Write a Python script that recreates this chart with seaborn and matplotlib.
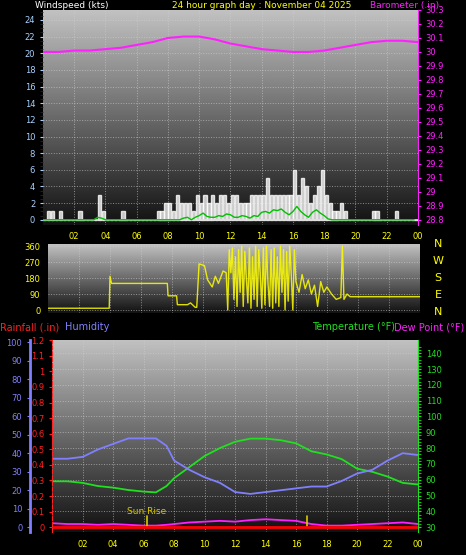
import numpy as np
import pandas as pd
import seaborn as sns
import matplotlib.pyplot as plt

# ---- data (hours 0..24) ----
baro_hours = [0, 1, 2, 3, 4, 5, 6, 7, 8, 9, 10, 11, 12, 13, 14, 15, 16, 17, 18, 19, 20, 21, 22, 23, 24]
baro_vals = [30.00, 30.00, 30.01, 30.01, 30.02, 30.03, 30.05, 30.07, 30.10, 30.11, 30.11, 30.09, 30.06,
             30.04, 30.02, 30.01, 30.00, 30.00, 30.01, 30.03, 30.05, 30.07, 30.08, 30.08, 30.07]

gust = [0, 1, 1, 0, 1, 0, 0, 0, 0, 1, 0, 0, 0, 0, 3, 1, 0, 0, 0, 0, 1, 0, 0, 0,
        0, 0, 0, 0, 0, 1, 1, 2, 2, 1, 3, 2, 2, 2, 1, 3, 2, 3, 2, 3, 2, 3, 3, 2,
        3, 3, 2, 2, 2, 3, 3, 3, 3, 5, 3, 3, 3, 3, 3, 3, 6, 3, 5, 4, 2, 3, 4, 6,
        3, 2, 1, 1, 2, 1, 0, 0, 0, 0, 0, 0, 1, 1, 0, 0, 0, 0, 1, 0, 0, 0, 0, 0]
avg_wind = [0] * 14 + [0.3, 0.2] + [0] * 20 + [0.2, 0.3, 0, 0.3, 0.5, 0.8, 0.4, 0.3, 0.3, 0.5, 0.4, 0.7,
            0.6, 0.3, 0.3, 0.5, 0.4, 0.2, 0.5, 0.4, 0.9, 1.0, 0.8, 1.2, 1.1, 1.3, 0.9, 0.6,
            1.0, 1.6, 1.0, 0.6, 0.3, 0.9, 1.2, 0.8, 0.5, 0.1] + [0] * 22

dir_hours = [0, 3.95, 4.0, 4.1, 7.7, 7.75, 8.3, 8.35, 9.0, 9.2, 9.5, 9.6, 9.75, 10.1, 10.3, 10.6,
             10.8, 11.0, 11.3, 11.5, 11.6, 11.7, 11.8, 11.9, 12.0, 12.1, 12.2, 12.3, 12.4, 12.5,
             12.6, 12.7, 12.8, 12.9, 13.0, 13.1, 13.2, 13.3, 13.4, 13.5, 13.6, 13.7, 13.8, 13.9,
             14.0, 14.1, 14.2, 14.3, 14.4, 14.5, 14.6, 14.7, 14.8, 14.9, 15.0, 15.1, 15.2, 15.3,
             15.4, 15.5, 15.6, 15.7, 15.8, 15.9, 16.0, 16.2, 16.4, 16.6, 16.8, 17.0, 17.2, 17.4,
             17.6, 17.8, 18.0, 18.3, 18.6, 18.9, 19.0, 19.1, 19.3, 19.5, 24]
dir_vals = [10, 10, 190, 150, 150, 80, 80, 30, 30, 40, 15, 15, 260, 250, 170, 130, 190, 150, 220, 210,
            0, 340, 210, 350, 60, 300, 20, 340, 100, 360, 20, 330, 180, 40, 350, 10, 300, 60, 360,
            20, 340, 200, 10, 350, 30, 360, 150, 20, 340, 10, 350, 40, 300, 20, 360, 100, 340, 0,
            330, 50, 360, 200, 0, 340, 160, 100, 200, 120, 170, 90, 140, 20, 160, 100, 130, 90, 60,
            70, 360, 60, 90, 75, 75]

temp_hours = [0, 1, 2, 3, 4, 5, 6, 6.8, 7.5, 8, 9, 10, 11, 12, 13, 14, 15, 16, 17, 18, 19, 20, 21, 22, 23, 24]
temp_vals = [59, 59, 58, 56, 55, 53.5, 52.5, 52, 56, 61, 68, 75, 80, 84, 86, 86, 85, 83, 78, 76, 73, 67, 65, 62, 58, 57]
hum_vals = [37, 37, 38, 42, 45, 48, 48, 48, 44, 36, 31, 27, 24, 19, 18, 19, 20, 21, 22, 22, 25, 29, 31, 36, 40, 39]
dew_vals = [32.5, 32, 32, 31.5, 32, 31.5, 31, 31, 31.5, 32, 33, 33.5, 34, 33.5, 34.5, 35, 34.5, 34, 32, 31, 31, 31.5, 32, 32.5, 33, 32]
rain_vals = [0] * len(temp_hours)

hour_ticks = list(range(2, 25, 2))
hour_labels = [f"{h % 24:02d}" for h in hour_ticks]

wind_df = pd.DataFrame({"t": np.arange(96) * 0.25, "gust": gust, "avg": avg_wind})
dir_df = pd.DataFrame({"t": dir_hours, "dir": dir_vals})
th_df = pd.DataFrame({"t": temp_hours, "temp": temp_vals, "hum": hum_vals, "dew": dew_vals, "rain": rain_vals})
baro_df = pd.DataFrame({"t": baro_hours, "baro": baro_vals})

sns.set_style("dark")
plt.rcParams["font.family"] = ["DejaVu Sans"]
fig = plt.figure(figsize=(4.66, 5.55), dpi=100, facecolor="black")

grad = np.linspace(0, 1, 256).reshape(-1, 1)


def style_panel(ax, tick_col):
    ax.imshow(grad, cmap="gray", vmin=-0.1, vmax=1.35, aspect="auto", extent=[0, 1, 0, 1],
              transform=ax.transAxes, zorder=0, origin="lower")
    ax.set_xlim(0, 24)
    ax.set_xticks(hour_ticks)
    ax.set_xticks(np.arange(0, 24.01, 0.5), minor=True)
    ax.grid(True, color="#d0d0d0", linestyle=":", linewidth=0.7, alpha=0.6)
    ax.tick_params(colors=tick_col, labelsize=6, length=2)
    for s in ax.spines.values():
        s.set_visible(False)


# ---- top: wind + barometer ----
ax1 = fig.add_axes([0.092, 0.595, 0.805, 0.387])
style_panel(ax1, "#a8d0ff")
ax1.bar(wind_df["t"] + 0.125, wind_df["gust"], width=0.2, color="#f0f0f0", alpha=0.8, zorder=2)
sns.lineplot(data=wind_df, x="t", y="avg", ax=ax1, color="#00c000", linewidth=1, zorder=3)
ax1.axhline(0, color="#e0e0e0", linewidth=1.2, zorder=2)
ax1.set_ylim(-0.6, 25.2)
ax1.set_yticks(range(0, 25, 2))
ax1.set_yticks(np.arange(0, 25.2, 0.5), minor=True)
ax1.set_xticklabels(hour_labels)
ax1.tick_params(axis="x", colors="#ffff00")
ax1.tick_params(axis="y", colors="#a8d0ff")
ax1.set_xlabel("")
ax1.set_ylabel("")
ax1b = ax1.twinx()
sns.lineplot(data=baro_df, x="t", y="baro", ax=ax1b, color="#ff20ff", linewidth=1.5)
ax1b.set_ylim(28.764, 30.3)
baro_ticks = np.round(np.arange(28.8, 30.31, 0.1), 1)
ax1b.set_yticks(baro_ticks)
ax1b.set_yticklabels([f"{v:g}" for v in baro_ticks])
ax1b.tick_params(colors="#ff20ff", labelsize=6, length=2)
ax1b.set_ylabel("")
for s in ax1b.spines.values():
    s.set_visible(False)
ax1b.spines["right"].set_visible(True)
ax1b.spines["right"].set_color("#ff20ff")
fig.text(0.075, 0.999, "Windspeed (kts)", color="white", fontsize=6.5, va="top")
fig.text(0.37, 0.999, "24 hour graph day : November 04 2025", color="#ffff00", fontsize=6.5, va="top")
fig.text(0.795, 0.999, "Barometer (.in)", color="#ff20ff", fontsize=6.5, va="top")

# ---- middle: wind direction ----
ax2 = fig.add_axes([0.103, 0.436, 0.798, 0.124])
style_panel(ax2, "#ffff00")
sns.lineplot(data=dir_df, x="t", y="dir", ax=ax2, color="#ffff00", linewidth=1, alpha=0.85, sort=False)
ax2.set_ylim(-17, 371)
ax2.set_yticks([0, 90, 180, 270, 360])
ax2.set_xticklabels([])
ax2.set_xlabel("")
ax2.set_ylabel("")
for i, c in enumerate(["N", "W", "S", "E", "N"]):
    fig.text(0.94, 0.56 - i * 0.0305, c, color="#ffff00", fontsize=8, va="center", ha="center")

fig.text(0.0, 0.41, "Rainfall (.in)", color="#ff2020", fontsize=7, va="center")
fig.text(0.14, 0.41, "Humidity", color="#8080ff", fontsize=7, va="center")
fig.text(0.67, 0.41, "Temperature (°F)", color="#20e020", fontsize=7, va="center")
fig.text(0.845, 0.41, "Dew Point (°F)", color="#ff20ff", fontsize=7, va="center")

# ---- bottom: temperature / humidity / rain ----
ax3 = fig.add_axes([0.112, 0.041, 0.785, 0.346])
style_panel(ax3, "#20e020")
ax3.set_xticklabels(hour_labels)
ax3.tick_params(axis="x", colors="#ffff00")
ax3.set_ylim(26.8, 148.2)
ax3.set_yticks(range(30, 141, 10))
ax3.set_yticks(range(30, 146, 2), minor=True)
sns.lineplot(data=th_df, x="t", y="temp", ax=ax3, color="#20e020", linewidth=1.3, zorder=3)
sns.lineplot(data=th_df, x="t", y="dew", ax=ax3, color="#ff20ff", linewidth=1.3, zorder=3)
for sx in [6.2, 16.7]:
    ax3.plot([sx, sx], [30, 37], color="#d8c800", linewidth=1.2, zorder=4)
ax3.text(6.2, 38.5, "Sun Rise", color="#d8c800", fontsize=6.5, ha="center")
ax3.set_xlabel("")
ax3.set_ylabel("")

ax3h = ax3.twinx()
ax3h.yaxis.tick_left()
ax3h.spines["left"].set_position(("outward", 16))
for s in ax3h.spines.values():
    s.set_visible(False)
ax3h.spines["left"].set_visible(True)
ax3h.spines["left"].set_color("#8080ff")
ax3h.spines["left"].set_linewidth(2)
sns.lineplot(data=th_df, x="t", y="hum", ax=ax3h, color="#8080ff", linewidth=1.3)
ax3h.set_ylim(-2.7, 101)
ax3h.set_yticks(range(0, 101, 10))
ax3h.tick_params(colors="#8080ff", labelsize=6, length=2)
ax3h.set_ylabel("")

ax3r = ax3.twinx()
ax3r.yaxis.tick_left()
for s in ax3r.spines.values():
    s.set_visible(False)
ax3r.spines["left"].set_visible(True)
ax3r.spines["left"].set_color("#ff2020")
ax3r.spines["left"].set_linestyle("--")
sns.lineplot(data=th_df, x="t", y="rain", ax=ax3r, color="#ff0000", linewidth=2)
ax3r.set_ylim(-0.032, 1.2)
rain_ticks = np.round(np.arange(0, 1.21, 0.1), 1)
ax3r.set_yticks(rain_ticks)
ax3r.set_yticklabels([f"{v:g}" for v in rain_ticks])
ax3r.tick_params(colors="#ff2020", labelsize=6, length=2)
ax3r.set_ylabel("")
ax3r.set_xlim(0, 24)

# temperature ticks on the right only (twinx moved them to the left)
ax3.yaxis.tick_right()
ax3.tick_params(axis="y", which="both", left=False, labelleft=False, right=True, labelright=True, colors="#20e020")
ax3.spines["right"].set_visible(True)
ax3.spines["right"].set_color("#20e020")

fig.savefig("out.png", dpi=100, facecolor="black")
